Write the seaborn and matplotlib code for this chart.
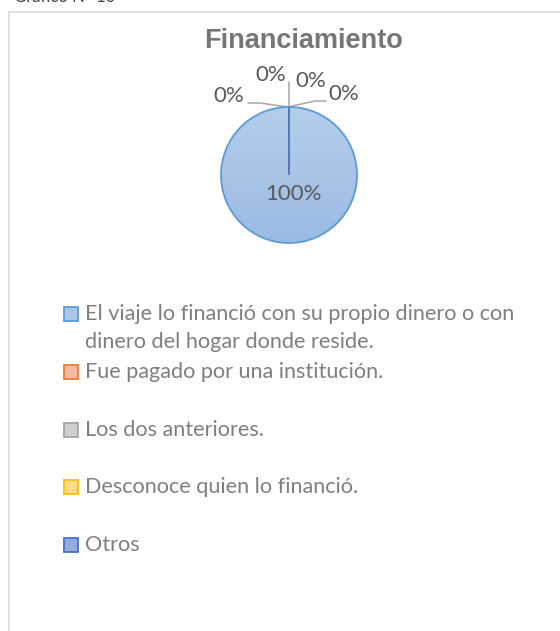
import textwrap

import matplotlib.pyplot as plt
import numpy as np
import seaborn as sns
from matplotlib.patches import Circle, Rectangle

# Chart data
categories = [
    "El viaje lo financió con su propio dinero o con dinero del hogar donde reside.",
    "Fue pagado por una institución.",
    "Los dos anteriores.",
    "Desconoce quien lo financió.",
    "Otros",
]
shares = [100, 0, 0, 0, 0]
title = "Financiamiento"

# Excel-like series colours (edge) and their light fills
edge_colors = sns.color_palette(["#5B9BD5", "#ED7D31", "#A5A5A5", "#FFC000", "#4472C4"])
fill_colors = sns.color_palette(["#A9C5E8", "#F6B9A0", "#CFCFCF", "#FFDB8E", "#93ABDD"])

sns.set_theme(style="white")
plt.rcParams["font.family"] = ["Lato", "DejaVu Sans"]

W, H = 560, 631
fig = plt.figure(figsize=(W / 100, H / 100), dpi=100)
fig.patch.set_facecolor("white")


def fx(px):
    return px / W


def fy(py):
    return 1 - py / H


# chart area frame (runs off the right and bottom of the picture)
fig.patches.append(Rectangle((fx(8.5), fy(H + 40)), 1.2, (H + 40 - 11.5) / H,
                             transform=fig.transFigure, fill=False,
                             edgecolor="#D9D9D9", linewidth=1.2))

# cut-off caption above the chart
fig.text(fx(14), fy(2.5), "Gráfico N° 10", fontsize=12, color="#404040",
         ha="left", va="baseline")

fig.text(fx(303.5), fy(48), title, fontsize=19.5, fontweight="bold",
         color="#767676", ha="center", va="baseline", family="Liberation Sans")

# pie axes: 200 px square centred on the pie, units = pixels
cx, cy, R = 289, 175, 68
ax = fig.add_axes([fx(cx - 100), fy(cy + 100), fx(200), 200 / H])

# gentle vertical gradient for the big slice, clipped to the disc
grad = np.linspace(0, 1, 256).reshape(-1, 1)
cmap = sns.blend_palette(["#B4CDEB", "#9BBBE3"], as_cmap=True)
img = ax.imshow(grad, extent=[-R, R, -R, R], origin="upper", cmap=cmap,
                aspect="auto", zorder=1)
img.set_clip_path(Circle((0, 0), R, transform=ax.transData))

wedges, _ = ax.pie(shares, radius=R, startangle=90, counterclock=False,
                   colors=fill_colors, wedgeprops=dict(linewidth=1.3))
for w, ec in zip(wedges, edge_colors):
    w.set_edgecolor(ec)
    w.set_zorder(3)
wedges[0].set_facecolor("none")
wedges[-1].set_zorder(4)

ax.set_xlim(-100, 100)
ax.set_ylim(-100, 100)
ax.set_aspect("auto")
ax.set_axis_off()

# data labels
label_color = "#595959"
ax.text(4, -19, f"{shares[0]:.0f}%", fontsize=16, color=label_color,
        ha="center", va="center")
zero_pos = [(-60, 79), (-18, 100), (22, 94), (55, 81)]
for v, (lx, ly) in zip(shares[1:], zero_pos):
    ax.text(lx, ly, f"{v:.0f}%", fontsize=16, color=label_color,
            ha="center", va="center", clip_on=False)

# leader lines
lead = "#A6A6A6"
for xs, ys in [([-1, -29, -41], [68, 72, 72]),
               ([0, 0], [68, 93]),
               ([-1, 26, 37], [68, 74, 74])]:
    ax.plot(xs, ys, color=lead, linewidth=1.1, zorder=2, clip_on=False)

# legend drawn by hand so multi-line entry matches the Excel layout
legend_rows = [[314, 342], [372], [430], [487], [545]]
text_color = "#7F7F7F"
for label, fc, ec, rows in zip(categories, fill_colors, edge_colors, legend_rows):
    fig.patches.append(Rectangle((fx(63.5), fy(rows[0] + 7)), fx(14), 14 / H,
                                 transform=fig.transFigure, facecolor=fc,
                                 edgecolor=ec, linewidth=1.3))
    lines = textwrap.wrap(label, 47)
    for line, ry in zip(lines, rows):
        fig.text(fx(85), fy(ry), line, fontsize=15.6, color=text_color,
                 ha="left", va="center")

fig.savefig("out.png", dpi=100, facecolor="white")
